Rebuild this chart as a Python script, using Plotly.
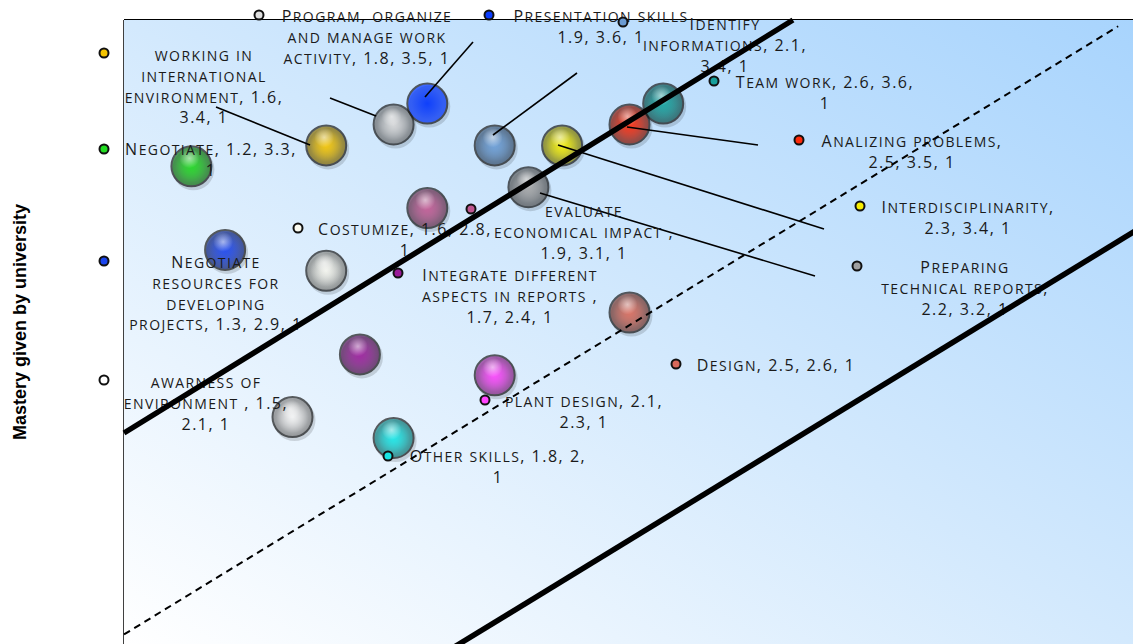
import base64
import re
import plotly.graph_objects as go

# ---------------- data ----------------
skills = [
    "Negotiate",
    "working in international environment",
    "Program, organize and manage work activity",
    "Presentation skills",
    "Identify informations",
    "Interdisciplinarity",
    "Analizing problems",
    "Team work",
    "Preparing technical reports",
    "evaluate economical impact ",
    "Negotiate resources for developing projects",
    "Costumize",
    "Integrate different aspects in reports ",
    "Design",
    "plant design",
    "awarness of environment ",
    "Other skills",
]
importance = [1.2, 1.6, 1.8, 1.9, 2.1, 2.3, 2.5, 2.6, 2.2, 1.9, 1.3, 1.6, 1.7, 2.5, 2.1, 1.5, 1.8]
mastery = [3.3, 3.4, 3.5, 3.6, 3.4, 3.4, 3.5, 3.6, 3.2, 3.1, 2.9, 2.8, 2.4, 2.6, 2.3, 2.1, 2.0]
bubble_size = [1, 1, 1, 1, 1, 1, 1, 1, 1, 1, 1, 1, 1, 1, 1, 1, 1]

# reference lines of the chart
upper_x = [1.0, 2.985]
upper_y = [2.024, 4.0]
diag_x = [1.0, 3.95]
diag_y = [1.06, 3.97]
lower_x = [1.98, 4.0]
lower_y = [1.0, 2.99]

y_title = "Mastery given by university"

# ---------------- style ----------------
bubble_colors = ["#1ed81e", "#f7c600", "#d8d8d8", "#0033ff", "#6c9fd8", "#f8f000",
                 "#ff2a0a", "#17a5a0", "#a8a8a8", "#c45a94", "#1b45f0", "#f6f6ee",
                 "#9c1c9c", "#dc6c5c", "#ff44ff", "#f4f4f4", "#18e8e8"]
key_colors = ["#22dd22", "#f5c400", "#e0e0e0", "#0a3cff", "#6b9bd2", "#f8ee00",
              "#ff2a0a", "#179f9b", "#a0a0a0", "#bf5690", "#1b45ee", "#fbfbf0",
              "#981a98", "#d8685a", "#ff44ff", "#ffffff", "#18e4e4"]
gloss = [1, 1, 1, 0, 1, 1, 1, 1, 1, 1, 1, 1, 1, 1, 1, 1, 1]
name_sep = [", ", ", ", ", ", " ", ", ", ", ", ", ", ", ", ", ", ", ", ", ", ", ", ", ", ", ", ", ", ", ", ", "]
line_words = [[3, 1], [2, 1, 2, 2], [2, 3, 4], [2, 3], [1, 2, 2], [1, 3], [2, 3], [4, 1],
              [1, 2, 3], [1, 3, 3], [1, 2, 1, 4], [3, 1], [2, 4, 3], [4], [3, 2], [2, 3, 2], [4, 1]]

# label layout in reference pixels: (centre x, first-line y), legend-key position
label_anchor = [(211, 151), (204, 57), (367, 18), (601, 18), (725, 26), (968, 209), (912, 143),
                (825, 84), (965, 269), (584, 213), (216, 264), (405, 231), (510, 277), (776, 367),
                (584, 403), (206, 384), (498, 458)]
key_pos = [(104, 149), (104, 53), (259, 15), (489, 15), (623, 22), (860, 206), (799, 140),
           (714, 81), (857, 266), (471, 209), (104, 261), (298, 228), (398, 273), (676, 364),
           (485, 400), (104, 380), (388, 456)]
leaders = {1: ((216, 107), (310, 145)), 2: ((330, 98), (376, 116)), 3: ((473, 42), (425, 97)),
           4: ((577, 73), (493, 135)), 5: ((558, 145), (824, 229)), 6: ((758, 145), (627, 127)),
           8: ((540, 193), (815, 276))}
LINE_STEP = 20.8
FONT = "Open Sans"
BASE_SIZE, BASE_LS = 16, 1.5
SC_SIZE, SC_LS = 20, 1.4

FIG_W, FIG_H = 1133, 644
PLOT_L, PLOT_T = 124, 20
PX_X, PX_Y = 337.0, 209.0
X0, Y_TOP = 1.0, 4.0
x_range = [X0 - PLOT_L / PX_X, X0 + (FIG_W - PLOT_L) / PX_X]
y_range = [Y_TOP - (FIG_H - PLOT_T) / PX_Y, Y_TOP + PLOT_T / PX_Y]


def fx(p):
    return X0 + (p - PLOT_L) / PX_X


def fy(p):
    return Y_TOP - (p - PLOT_T) / PX_Y


def fmt(v):
    return f"{v:g}"


def rgb(hexc):
    return int(hexc[1:3], 16), int(hexc[3:5], 16), int(hexc[5:7], 16)


def darker(hexc, f):
    r, g, b = rgb(hexc)
    return f"rgb({int(r * f)},{int(g * f)},{int(b * f)})"


def rgba(hexc, a):
    r, g, b = rgb(hexc)
    return f"rgba({r},{g},{b},{a})"


def markup(s):
    out = []
    for m in re.finditer(r"[a-z]+|[^a-z]+", s):
        run = m.group(0)
        if run[0].islower():
            out.append(f'<span style="font-size:{SC_SIZE}px;letter-spacing:{SC_LS}px">{run}</span>')
        else:
            out.append(f'<span style="letter-spacing:{BASE_LS}px">{run}</span>')
    return "".join(out)


fig = go.Figure()

# background gradient
svg = ('<svg xmlns="http://www.w3.org/2000/svg" width="100" height="100" viewBox="0 0 100 100" '
       'preserveAspectRatio="none"><defs><linearGradient id="g" x1="0" y1="1" x2="1" y2="0">'
       '<stop offset="0" stop-color="#ffffff"/><stop offset="0.5" stop-color="#d3e9fd"/>'
       '<stop offset="1" stop-color="#a8d4fd"/></linearGradient></defs>'
       '<rect width="100" height="100" fill="url(#g)"/></svg>')
src = "data:image/svg+xml;base64," + base64.b64encode(svg.encode()).decode()
fig.add_layout_image(source=src, xref="x", yref="y", x=X0, y=Y_TOP,
                     sizex=x_range[1] - X0, sizey=Y_TOP - y_range[0],
                     sizing="stretch", layer="below", xanchor="left", yanchor="top")

# grid lines and frame
for gx in [2, 3]:
    fig.add_shape(type="line", x0=gx, x1=gx, y0=y_range[0], y1=Y_TOP, xref="x", yref="y",
                  line=dict(color="#777777", width=1), layer="below")
for gy in [2, 3]:
    fig.add_shape(type="line", x0=X0, x1=x_range[1], y0=gy, y1=gy, xref="x", yref="y",
                  line=dict(color="#777777", width=1), layer="below")
fig.add_shape(type="line", x0=X0, x1=x_range[1], y0=Y_TOP, y1=Y_TOP, xref="x", yref="y",
              line=dict(color="black", width=2), layer="below")
fig.add_shape(type="line", x0=X0, x1=X0, y0=y_range[0], y1=Y_TOP, xref="x", yref="y",
              line=dict(color="black", width=1.5), layer="below")

sizes = [40 * s for s in bubble_size]

# shadows
fig.add_trace(go.Scatter(
    x=[v + 2 / PX_X for v in importance], y=[v - 3 / PX_Y for v in mastery], mode="markers",
    marker=dict(size=[s + 2 for s in sizes], color="rgba(0,0,0,0.2)", line=dict(width=0)),
    hoverinfo="skip", showlegend=False))

# bubbles: dark rim (marker.color = rim, gradient.color = centre)
fig.add_trace(go.Scatter(
    x=importance, y=mastery, mode="markers", text=skills, hoverinfo="text",
    marker=dict(size=sizes,
                color=[darker(c, 0.5) if g else c for c, g in zip(bubble_colors, gloss)],
                gradient=dict(type="radial", color=bubble_colors),
                line=dict(color="#1a1a1a", width=2)),
    showlegend=False))

# bubble bodies: solid colour fading out towards the rim
fig.add_trace(go.Scatter(
    x=importance, y=mastery, mode="markers",
    marker=dict(size=[s * 0.8 for s in sizes], color=[rgba(c, 0) for c in bubble_colors],
                gradient=dict(type="radial", color=[rgba(c, 1) for c in bubble_colors]),
                line=dict(width=0)),
    hoverinfo="skip", showlegend=False))

# highlights
fig.add_trace(go.Scatter(
    x=[v - 2 / PX_X for v in importance], y=[v + 8 / PX_Y for v in mastery], mode="markers",
    marker=dict(size=[s * 0.5 for s in sizes], color="rgba(255,255,255,0)",
                gradient=dict(type="radial",
                              color=[f"rgba(255,255,255,{0.8 * g})" for g in gloss]),
                line=dict(width=0)),
    hoverinfo="skip", showlegend=False))

# leader lines
lx, ly = [], []
for i, ((ax, ay), (bx, by)) in leaders.items():
    lx += [fx(ax), fx(bx), None]
    ly += [fy(ay), fy(by), None]
fig.add_trace(go.Scatter(x=lx, y=ly, mode="lines", line=dict(color="black", width=1.6),
                         hoverinfo="skip", showlegend=False))

# data labels (one multi-line text block per bubble)
tx, ty, tt = [], [], []
for i, name in enumerate(skills):
    label = name + name_sep[i] + ", ".join(fmt(v) for v in (importance[i], mastery[i], bubble_size[i]))
    words = label.split(" ")
    pos = 0
    lines = []
    for n in line_words[i]:
        lines.append(markup(" ".join(words[pos:pos + n])))
        pos += n
    cx, cy = label_anchor[i]
    tt.append("<br>".join(lines))
    tx.append(fx(cx))
    ty.append(fy(cy + (len(lines) - 1) * LINE_STEP / 2))
fig.add_trace(go.Scatter(
    x=tx, y=ty, text=tt, mode="text", textposition="middle center",
    textfont=dict(family=FONT, size=BASE_SIZE, color="#1a1a1a", variant="small-caps"),
    hoverinfo="skip", showlegend=False))

# reference lines
fig.add_trace(go.Scatter(x=upper_x, y=upper_y, mode="lines", line=dict(color="black", width=5.5),
                         hoverinfo="skip", showlegend=False))
fig.add_trace(go.Scatter(x=lower_x, y=lower_y, mode="lines", line=dict(color="black", width=5.5),
                         hoverinfo="skip", showlegend=False))
fig.add_trace(go.Scatter(x=diag_x, y=diag_y, mode="lines",
                         line=dict(color="black", width=2, dash="7px,5px"),
                         hoverinfo="skip", showlegend=False))

# legend keys of the labels
fig.add_trace(go.Scatter(
    x=[fx(p[0]) for p in key_pos], y=[fy(p[1]) for p in key_pos], mode="markers",
    marker=dict(size=9, color=key_colors, line=dict(color="#111111", width=2)),
    hoverinfo="skip", showlegend=False))

fig.add_annotation(text=y_title, xref="paper", yref="paper", x=20 / FIG_W, y=1 - 322 / FIG_H,
                   showarrow=False, textangle=-90, xanchor="center", yanchor="middle",
                   font=dict(family="Liberation Sans, Arial", size=18, color="black", weight="bold"))

fig.update_layout(
    width=FIG_W, height=FIG_H, margin=dict(l=0, r=0, t=0, b=0),
    paper_bgcolor="white", plot_bgcolor="white", showlegend=False,
    xaxis=dict(range=x_range, visible=False, showgrid=False, zeroline=False, fixedrange=True),
    yaxis=dict(range=y_range, visible=False, showgrid=False, zeroline=False, fixedrange=True),
)

fig.write_html("out.html")
